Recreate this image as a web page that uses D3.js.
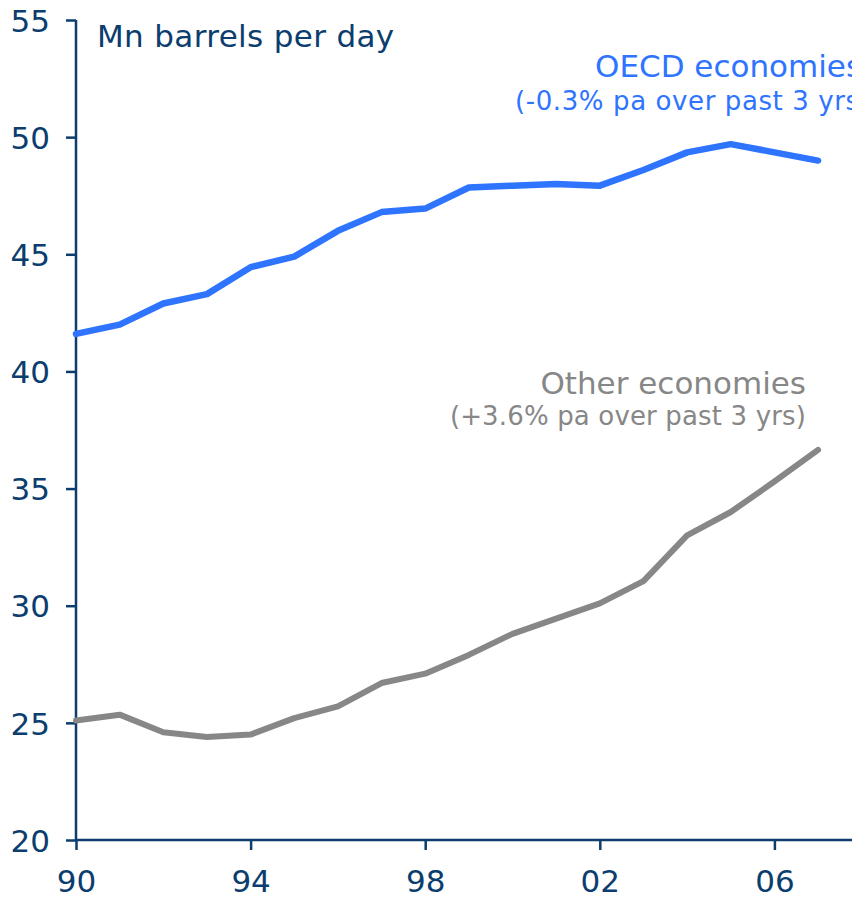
<!DOCTYPE html>
<html>
<head>
<meta charset="utf-8">
<script src="https://cdn.jsdelivr.net/npm/d3@7"></script>
<style>
  html, body { margin: 0; padding: 0; background: #fff; overflow: hidden; }
  svg { display: block; }
  text { font-family: "DejaVu Sans", Verdana, sans-serif; }
</style>
</head>
<body>
<div id="chart"></div>
<script>
// ---- data ----
const years = [1990,1991,1992,1993,1994,1995,1996,1997,1998,1999,2000,2001,2002,2003,2004,2005,2006,2007];
const oecd  = [41.6,42.0,42.9,43.3,44.45,44.9,46.0,46.8,46.95,47.85,47.93,48.0,47.93,48.6,49.35,49.7,49.35,49.0];
const other = [25.1,25.35,24.6,24.4,24.5,25.2,25.7,26.7,27.1,27.9,28.8,29.45,30.1,31.05,33.0,34.0,35.3,36.65];
const yTicks = [20,25,30,35,40,45,50,55];
const xTicks = [1990,1994,1998,2002,2006];
const xTickLabels = ["90","94","98","02","06"];
const unitLabel = "Mn barrels per day";
const oecdLabel = ["OECD economies", "(-0.3% pa over past 3 yrs)"];
const otherLabel = ["Other economies", "(+3.6% pa over past 3 yrs)"];

// ---- layout ----
const W = 852, H = 898;
const navy = "#0b3d6e", blue = "#2e74ff", grey = "#878787";

const svg = d3.select("#chart").append("svg").attr("width", W).attr("height", H);

const x = d3.scaleLinear().domain([1990, 2008]).range([76, 76 + 18 * 43.65]);
const y = d3.scaleLinear().domain([20, 55]).range([840, 20]);

// y axis
const yAxis = svg.append("g").attr("transform", `translate(${x(1990)},0)`)
  .call(d3.axisLeft(y).tickValues(yTicks).tickSize(10).tickPadding(16).tickFormat(d3.format("d")));
yAxis.select(".domain").attr("stroke", navy).attr("stroke-width", 2.5).attr("d", `M0,${y(55)}V${y(20)}`);
yAxis.selectAll(".tick line").attr("stroke", navy).attr("stroke-width", 2.5);
yAxis.selectAll(".tick text").attr("fill", navy).style("font-size", "31px")
  .style("font-family", '"DejaVu Sans", Verdana, sans-serif').attr("dy", "0.36em");

// x axis
const xAxis = svg.append("g").attr("transform", `translate(0,${y(20)})`)
  .call(d3.axisBottom(x).tickValues(xTicks).tickSize(10).tickPadding(20)
    .tickFormat((d, i) => xTickLabels[i]));
xAxis.select(".domain").attr("stroke", navy).attr("stroke-width", 2.5).attr("d", `M${x(1990)},0H${x(2008)}`);
xAxis.selectAll(".tick line").attr("stroke", navy).attr("stroke-width", 2.5);
xAxis.selectAll(".tick text").attr("fill", navy).style("font-size", "31px")
  .style("font-family", '"DejaVu Sans", Verdana, sans-serif');

// lines
const line = d3.line().x((d, i) => x(years[i])).y(d => y(d));
svg.append("path").datum(oecd).attr("d", line).attr("fill", "none")
  .attr("stroke", blue).attr("stroke-width", 6.5).attr("stroke-linejoin", "round").attr("stroke-linecap", "round");
svg.append("path").datum(other).attr("d", line).attr("fill", "none")
  .attr("stroke", grey).attr("stroke-width", 6).attr("stroke-linejoin", "round").attr("stroke-linecap", "round");

// texts
svg.append("text").attr("x", 97).attr("y", 47).attr("fill", navy)
  .style("font-size", "31px").style("letter-spacing", "0.35px").text(unitLabel);

svg.append("text").attr("x", 595).attr("y", 77).attr("fill", blue)
  .style("font-size", "31px").text(oecdLabel[0]);
svg.append("text").attr("x", 515).attr("y", 110).attr("fill", blue)
  .style("font-size", "26px").style("letter-spacing", "0.6px").text(oecdLabel[1]);

svg.append("text").attr("x", 806).attr("y", 394).attr("fill", grey).attr("text-anchor", "end")
  .style("font-size", "31px").text(otherLabel[0]);
svg.append("text").attr("x", 806).attr("y", 425).attr("fill", grey).attr("text-anchor", "end")
  .style("font-size", "26px").style("letter-spacing", "0.15px").text(otherLabel[1]);
</script>
</body>
</html>
